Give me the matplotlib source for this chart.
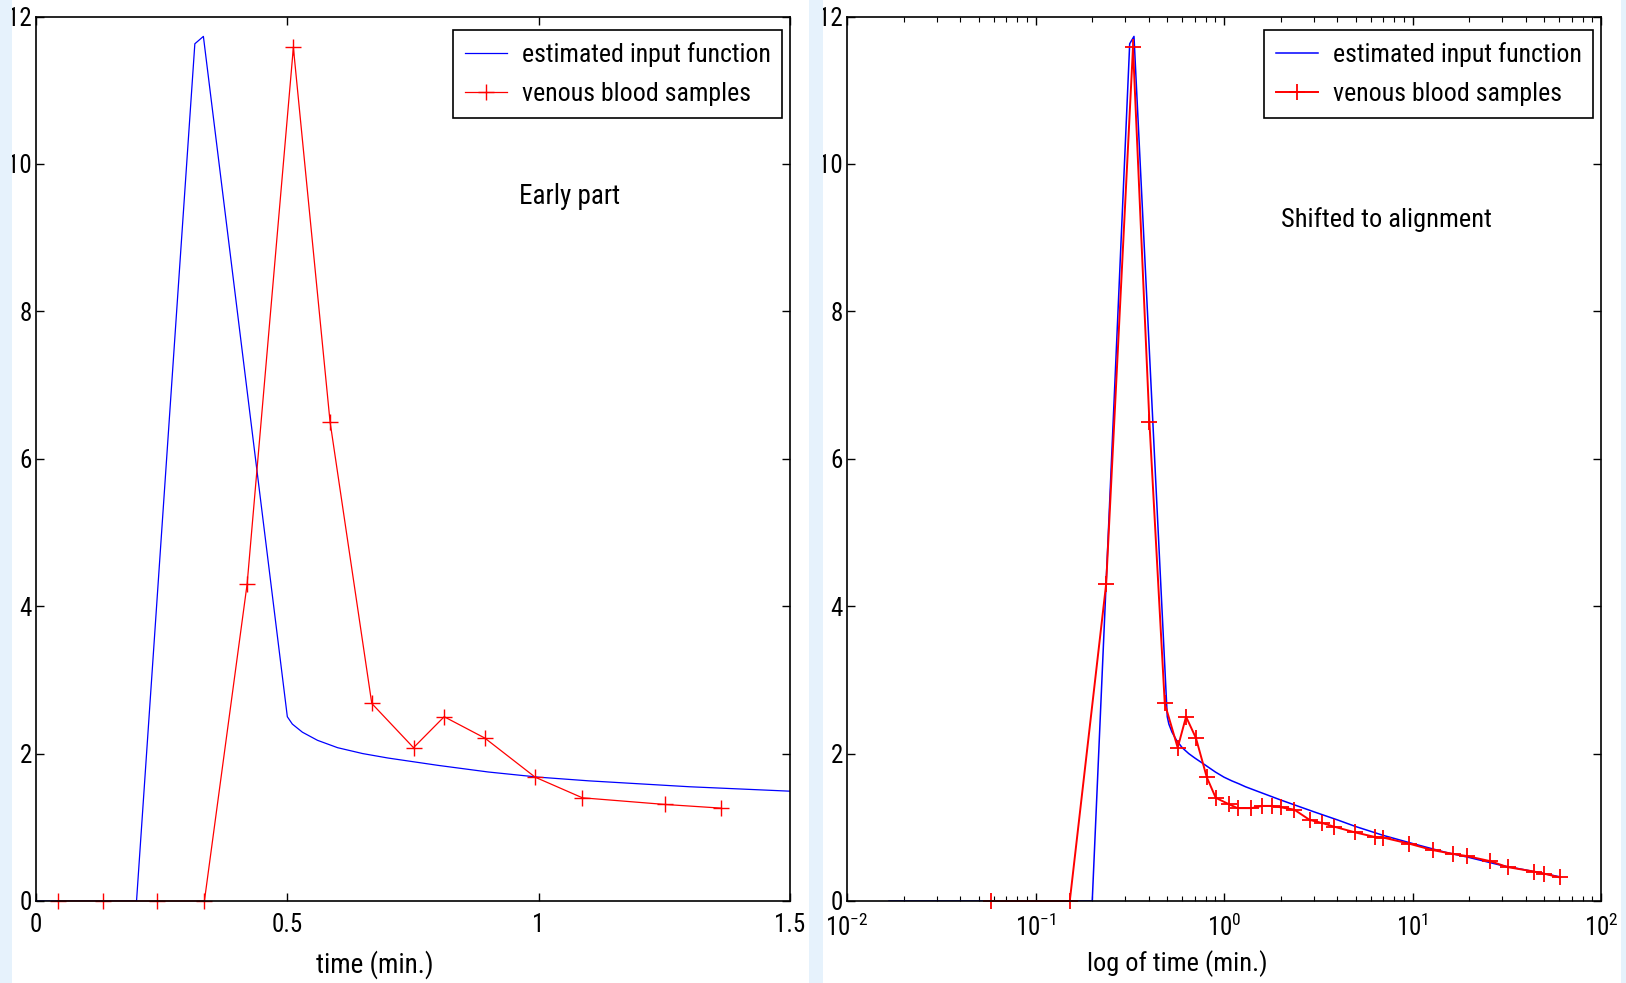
import numpy as np
import matplotlib
matplotlib.use('Agg')
import matplotlib.pyplot as plt
from matplotlib import font_manager
from matplotlib.patches import Rectangle
from matplotlib.ticker import LogLocator, NullFormatter

# estimated input function, time in minutes
input_t = [0.0, 0.0167, 0.2, 0.316, 0.333, 0.5, 0.51, 0.53, 0.56, 0.6, 0.65,
           0.7, 0.8, 0.9, 1.0, 1.1, 1.2, 1.3, 1.5, 2.0, 3.0, 4.0, 5.0, 7.0,
           10.0, 15.0, 20.0, 30.0, 40.0, 60.0]
input_v = [0, 0, 0, 11.63, 11.73, 2.5, 2.40, 2.29, 2.18, 2.08, 2.00,
           1.94, 1.84, 1.75, 1.68, 1.63, 1.59, 1.55, 1.49, 1.37, 1.21, 1.10,
           1.01, 0.89, 0.78, 0.66, 0.59, 0.48, 0.42, 0.33]

# venous blood samples (raw sampling times, min)
venous_t = [0.044, 0.133, 0.241, 0.335, 0.420, 0.512, 0.585, 0.668, 0.751,
            0.812, 0.893, 0.993, 1.087, 1.251, 1.363, 1.58, 1.78, 1.99, 2.19,
            2.54, 3.03, 3.48, 4.0, 5.16, 6.47, 7.19, 9.71, 13.0, 16.5, 19.6,
            26.1, 32.1, 44.2, 50.3, 60.6]
venous_v = [0, 0, 0, 0, 4.30, 11.58, 6.50, 2.68, 2.08, 2.50, 2.21, 1.68,
            1.40, 1.31, 1.26, 1.26, 1.29, 1.29, 1.27, 1.24, 1.10, 1.06, 1.01,
            0.93, 0.87, 0.86, 0.78, 0.69, 0.64, 0.61, 0.54, 0.46, 0.40, 0.37,
            0.32]
n_early = 15          # samples shown in the "early part" panel
delay = 0.183         # shift (min) used to align samples with the input function

labels = ['estimated input function', 'venous blood samples']
yticks = [0, 2, 4, 6, 8, 10, 12]
xticks_lin = [0, 0.5, 1, 1.5]

# prefer a narrow face like the original (Helvetica Narrow look)
ttf = font_manager.fontManager.ttflist
names = {f.name for f in ttf}
fam, stretch = 'Liberation Sans', 'normal'
if 'Liberation Sans Narrow' in names:
    fam = 'Liberation Sans Narrow'
elif 'Roboto Condensed' in names:
    fam = 'Roboto Condensed'
elif any(f.name == 'DejaVu Sans' and f.stretch == 'condensed' for f in ttf):
    fam, stretch = 'DejaVu Sans', 'condensed'
plt.rcParams['font.family'] = [fam, 'DejaVu Sans']
plt.rcParams['font.stretch'] = stretch
plt.rcParams['mathtext.fontset'] = 'custom'
plt.rcParams['mathtext.rm'] = fam
plt.rcParams['mathtext.it'] = fam
plt.rcParams['mathtext.bf'] = fam

W, H = 1626, 983
fig = plt.figure(figsize=(W / 100, H / 100), dpi=100)

# light blue side bands
band = '#e6f2fc'
for x0, x1 in [(0, 12), (809, 823), (1621, 1626)]:
    fig.patches.append(Rectangle((x0 / W, 0), (x1 - x0) / W, 1, transform=fig.transFigure,
                                 facecolor=band, edgecolor='none', zorder=0))

bottom, top = 1 - 901 / H, 1 - 16.5 / H
ax1 = fig.add_axes([36 / W, bottom, (790 - 36) / W, top - bottom])
ax2 = fig.add_axes([847 / W, bottom, (1601 - 847) / W, top - bottom])

t_in = np.array(input_t)
v_in = np.array(input_v)
t_ven = np.array(venous_t)
v_ven = np.array(venous_v)

# left: early part, linear time
ax1.plot(t_in, v_in, color='#0000ff', lw=0.9, label=labels[0])
ax1.plot(t_ven[:n_early], v_ven[:n_early], color='#ff0000', lw=0.9, marker='+',
         ms=11, mew=1.0, label=labels[1], clip_on=False)
ax1.set_xlim(0, 1.5)
ax1.set_xticks(xticks_lin)
ax1.set_xticklabels(['0', '0.5', '1', '1.5'])
ax1.set_xlabel('time (min.)', fontsize=19.5)
ax1.xaxis.set_label_coords(0.45, -0.056)
ax1.text(0.707, 0.796, 'Early part', transform=ax1.transAxes, fontsize=19.5,
         ha='center', va='center')

# right: aligned samples, log time
keep_in = t_in > 0
t_al = t_ven - delay
keep_v = t_al > 0
ax2.plot(t_in[keep_in], v_in[keep_in], color='#0000ff', lw=1.1, label=labels[0])
ax2.plot(t_al[keep_v], v_ven[keep_v], color='#ff0000', lw=1.4, marker='+',
         ms=12, mew=1.3, label=labels[1], clip_on=False)
ax2.set_xscale('log')
ax2.set_xlim(1e-2, 1e2)
ax2.xaxis.set_major_locator(LogLocator(base=10, numticks=10))
ax2.xaxis.set_minor_locator(LogLocator(base=10, subs=np.arange(2, 10), numticks=10))
ax2.xaxis.set_minor_formatter(NullFormatter())
ax2.set_xlabel('log of time (min.)', fontsize=19)
ax2.xaxis.set_label_coords(0.438, -0.056)
ax2.text(0.715, 0.770, 'Shifted to alignment', transform=ax2.transAxes, fontsize=19,
         ha='center', va='center')

for ax in (ax1, ax2):
    ax.set_ylim(0, 12)
    ax.set_yticks(yticks)
    ax.set_yticklabels([str(v) for v in yticks])
    ax.tick_params(which='major', direction='in', top=True, right=True, length=6,
                   width=1.0, labelsize=18)
    ax.tick_params(which='minor', direction='in', top=True, right=True, length=3.5,
                   width=0.8)
    ax.tick_params(axis='x', which='major', pad=9)
    ax.tick_params(axis='y', which='major', pad=3)
    for s in ax.spines.values():
        s.set_linewidth(1.2)
    leg = ax.legend(loc='upper right', bbox_to_anchor=(1 - 8 / 754, 1 - 13.5 / 884.5),
                    borderaxespad=0, fontsize=18.6, fancybox=False, framealpha=1,
                    edgecolor='black', handlelength=1.65, handletextpad=0.55,
                    labelspacing=0.6, borderpad=0.45)
    leg.get_frame().set_linewidth(1.2)

fig.savefig('out.png', dpi=100)
